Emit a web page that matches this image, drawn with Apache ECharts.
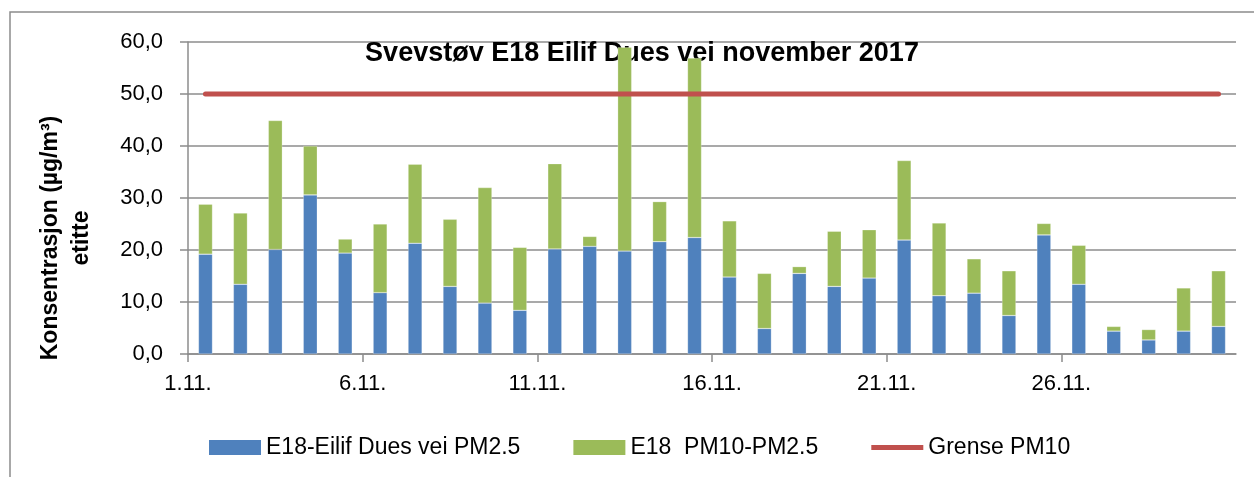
<!DOCTYPE html>
<html>
<head>
<meta charset="utf-8">
<script src="https://cdn.jsdelivr.net/npm/echarts@6/dist/echarts.min.js"></script>
<style>
  html, body { margin: 0; padding: 0; background: #fff; }
  #chart { width: 1254px; height: 477px; }
</style>
</head>
<body>
<div id="chart"></div>
<script>
// dager i november 2017
const days = ['1.11.', '2.11.', '3.11.', '4.11.', '5.11.', '6.11.', '7.11.', '8.11.', '9.11.', '10.11.',
  '11.11.', '12.11.', '13.11.', '14.11.', '15.11.', '16.11.', '17.11.', '18.11.', '19.11.', '20.11.',
  '21.11.', '22.11.', '23.11.', '24.11.', '25.11.', '26.11.', '27.11.', '28.11.', '29.11.', '30.11.'];

// PM2.5 (blå del)
const pm25 = [19.2, 13.4, 20.1, 30.6, 19.4, 11.8, 21.3, 13.0, 9.8, 8.4,
  20.2, 20.7, 19.8, 21.6, 22.4, 14.8, 4.9, 15.5, 13.0, 14.6,
  21.9, 11.2, 11.7, 7.4, 22.9, 13.4, 4.4, 2.7, 4.4, 5.3];

// PM10 - PM2.5 (grønn del, stablet oppå)
const pm10diff = [9.6, 13.7, 24.8, 9.4, 2.7, 13.2, 15.2, 12.9, 22.2, 12.1,
  16.4, 1.9, 39.2, 7.7, 34.5, 10.8, 10.6, 1.3, 10.6, 9.3,
  15.3, 14.0, 6.6, 8.6, 2.2, 7.5, 0.9, 2.0, 8.3, 10.7];

// grenseverdi PM10
const limit = days.map(() => 50);

// etiketter på x-aksen (hver 5. dag, på strekene)
const tickLabels = ['1.11.', '6.11.', '11.11.', '16.11.', '21.11.', '26.11.', ''];

const seriesNames = ['E18-Eilif Dues vei PM2.5', 'E18  PM10-PM2.5', 'Grense PM10'];

const font = 'Liberation Sans, Arial, sans-serif';
const gray = '#8c8c8c';

const options = {
  animation: false,
  textStyle: { fontFamily: font },
  title: {
    text: 'Svevstøv E18 Eilif Dues vei november 2017',
    left: 637,
    top: 35,
    textAlign: 'center',
    z: 0,
    textStyle: { fontSize: 27, fontWeight: 'bold', color: '#000', fontFamily: font }
  },
  legend: {
    left: 204,
    top: 431,
    itemWidth: 52,
    itemHeight: 15,
    itemGap: 53,
    itemStyle: { borderWidth: 0 },
    textStyle: { fontSize: 23, color: '#000', fontFamily: font },
    data: [
      { name: seriesNames[0], icon: 'rect' },
      { name: seriesNames[1], icon: 'rect' },
      // tykk strek med samme boks som de andre
      { name: seriesNames[2], icon: 'path://M0,0 M0,5 L52,5 L52,10 L0,10 Z M52,15' }
    ]
  },
  grid: { left: 188, right: 18, top: 42, bottom: 123 },
  xAxis: [
    {
      type: 'category',
      data: days,
      boundaryGap: true,
      axisLine: { lineStyle: { color: gray, width: 1.5 } },
      axisTick: { show: false },
      axisLabel: { show: false },
      splitLine: { show: false }
    },
    {
      type: 'value',
      position: 'bottom',
      min: 0,
      max: 30,
      interval: 5,
      axisLine: { show: false },
      axisTick: { show: true, length: 8, lineStyle: { color: gray, width: 1.5 } },
      splitLine: { show: false },
      axisLabel: {
        margin: 19,
        fontSize: 22,
        color: '#000',
        showMaxLabel: false,
        formatter: (v) => tickLabels[Math.round(v / 5)]
      }
    }
  ],
  yAxis: {
    type: 'value',
    min: 0,
    max: 60,
    interval: 10,
    axisLine: { show: true, lineStyle: { color: gray, width: 1.5 } },
    axisTick: { show: true, length: 8, lineStyle: { color: gray, width: 1.5 } },
    splitLine: { show: true, lineStyle: { color: gray, width: 1.5 } },
    axisLabel: {
      margin: 25,
      fontSize: 22,
      color: '#000',
      formatter: (v) => v.toFixed(1).replace('.', ',')
    }
  },
  graphic: [
    // ramme rundt diagrammet (bare venstre og topp synlig)
    {
      type: 'rect',
      shape: { x: 10, y: 12, width: 1300, height: 520 },
      style: { fill: 'none', stroke: gray, lineWidth: 1.5 },
      z: 0,
      silent: true
    },
    {
      type: 'text',
      x: 66,
      y: 238,
      rotation: Math.PI / 2,
      style: {
        text: 'Konsentrasjon (µg/m³)\netitte',
        align: 'center',
        verticalAlign: 'middle',
        font: 'bold 23px ' + font,
        lineHeight: 31,
        fill: '#000'
      }
    }
  ],
  series: [
    {
      name: seriesNames[0],
      type: 'bar',
      stack: 'pm',
      barWidth: '40%',
      data: pm25,
      itemStyle: { color: '#4F81BD', borderColor: 'rgba(255,255,255,0.5)', borderWidth: 0.5 }
    },
    {
      name: seriesNames[1],
      type: 'bar',
      stack: 'pm',
      barWidth: '40%',
      data: pm10diff,
      itemStyle: { color: '#9BBB59', borderColor: 'rgba(255,255,255,0.5)', borderWidth: 0.5 }
    },
    {
      name: seriesNames[2],
      type: 'line',
      data: limit,
      symbol: 'none',
      z: 5,
      lineStyle: { color: '#C0504D', width: 5, cap: 'round' },
      itemStyle: { color: '#C0504D' }
    }
  ]
};

const chart = echarts.init(document.getElementById('chart'));
chart.setOption(options);
</script>
</body>
</html>
